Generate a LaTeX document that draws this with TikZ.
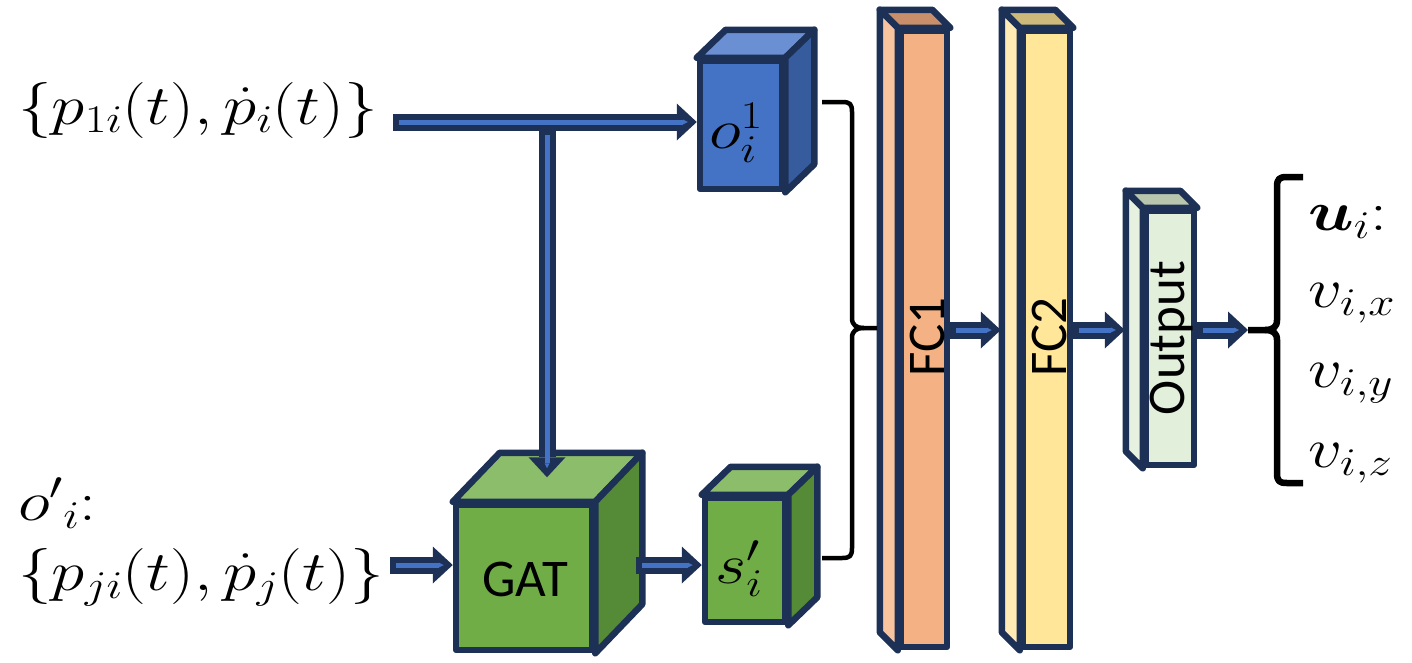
\RequirePackage{fix-cm}
\documentclass[tikz,border=0pt]{standalone}
\usepackage{fontspec}
\usepackage{bm}
\usepackage{graphicx}
\newfontfamily\carlito{Carlito}
\newcommand\wm[1]{\scalebox{1.2}[1]{#1}}
\usetikzlibrary{arrows.meta,calc}
\definecolor{navy}{HTML}{1D3056}
\definecolor{arrowblue}{HTML}{4472C4}
\definecolor{bfront}{HTML}{4472C4}
\definecolor{btop}{HTML}{6A8FD2}
\definecolor{bside}{HTML}{375C9E}
\definecolor{gfront}{HTML}{70AD47}
\definecolor{gtopc}{HTML}{8CBD6A}
\definecolor{gside}{HTML}{558A37}
\definecolor{ofront}{HTML}{F4B183}
\definecolor{oside}{HTML}{F8C4A0}
\definecolor{otop}{HTML}{C88F6A}
\definecolor{yfront}{HTML}{FFE699}
\definecolor{yside}{HTML}{FFEBB3}
\definecolor{ytop}{HTML}{CDBA7A}
\definecolor{lfront}{HTML}{E2EFDA}
\definecolor{lside}{HTML}{E6F1DF}
\definecolor{ltop}{HTML}{B8C6AE}
\begin{document}
\begin{tikzpicture}[x=1pt,y=-1pt,line join=round]
\tikzset{
  face/.style={draw=navy, line width=6.5pt},
  front/.style={face, rectangle, inner sep=0pt},
  mtext/.style={inner sep=0pt, font=\fontsize{56}{60}\selectfont},
  stext/.style={inner sep=0pt, font=\carlito\fontsize{53}{58}\selectfont},
  navyarrow/.style={draw=navy, line width=17pt, -{Triangle[length=20pt,width=37pt,line width=0pt]}},
  bluearrow/.style={draw=arrowblue, line width=5pt, shorten <=6pt, shorten >=9pt, -{Triangle[length=5pt,width=5pt,line width=0pt]}},
  bracepath/.style={draw=black, line width=4.5pt}
}
\useasboundingbox (0,0) rectangle (1412,662);

% ---- left texts
\node[mtext, anchor=base west] (p1) at (18,124) {\wm{$\{p_{1i}(t),\dot{p}_i(t)\}$}};
\node[mtext, anchor=base west] (oi) at (18,520) {\wm{${o'}_{i}$:}};
\node[mtext, anchor=base west] (pj) at (18,590) {\wm{$\{p_{ji}(t),\dot{p}_j(t)\}$}};

% ---- blue cube
\node[front, fill=bfront, minimum width=82pt, minimum height=128pt] (o1) at (741,125) {};
\draw[face, fill=btop] (o1.north west) -- ++(29,-28) -- ($(o1.north east)+(29,-28)$) -- (o1.north east) -- cycle;
\draw[face, fill=bside] (o1.north east) -- ++(29,-28) -- ($(o1.south east)+(29,-28)$) -- (o1.south east) -- cycle;
\node[mtext] (o1t) at (736,133) {\wm{$o_i^1$}};

% ---- GAT cube
\node[front, fill=gfront, minimum width=136pt, minimum height=145pt] (gat) at (524,577.5) {};
\draw[face, fill=gtopc] (gat.north west) -- ++(47,-49) -- ($(gat.north east)+(47,-49)$) -- (gat.north east) -- cycle;
\draw[face, fill=gside] (gat.north east) -- ++(47,-49) -- ($(gat.south east)+(47,-49)$) -- (gat.south east) -- cycle;
\node[stext] (gatt) at (525,579) {GAT};

% ---- s cube
\node[front, fill=gfront, minimum width=80pt, minimum height=124pt] (s) at (745,560) {};
\draw[face, fill=gtopc] (s.north west) -- ++(29,-28) -- ($(s.north east)+(29,-28)$) -- (s.north east) -- cycle;
\draw[face, fill=gside] (s.north east) -- ++(29,-28) -- ($(s.south east)+(29,-28)$) -- (s.south east) -- cycle;
\node[mtext] (st) at (739,569) {\wm{$s_i'$}};

% ---- FC1 bar
\node[front, fill=ofront, minimum width=46pt, minimum height=616pt] (fc1) at (924,339) {};
\draw[face, fill=otop] (fc1.north west) -- ++(-18,-18) -- ($(fc1.north east)+(-18,-18)$) -- (fc1.north east) -- cycle;
\draw[face, fill=oside] (fc1.north west) -- ++(-18,-18) -- ($(fc1.south west)+(-18,-18)$) -- (fc1.south west) -- cycle;
\node[stext, rotate=90] (fc1t) at (927,337) {FC1};

% ---- FC2 bar
\node[front, fill=yfront, minimum width=47pt, minimum height=616pt] (fc2) at (1046.5,339) {};
\draw[face, fill=ytop] (fc2.north west) -- ++(-18,-18) -- ($(fc2.north east)+(-18,-18)$) -- (fc2.north east) -- cycle;
\draw[face, fill=yside] (fc2.north west) -- ++(-18,-18) -- ($(fc2.south west)+(-18,-18)$) -- (fc2.south west) -- cycle;
\node[stext, rotate=90] (fc2t) at (1049,337) {FC2};

% ---- Output bar
\node[front, fill=lfront, minimum width=48pt, minimum height=254pt] (out) at (1170,338) {};
\draw[face, fill=ltop] (out.north west) -- ++(-17,-17) -- ($(out.north east)+(-17,-17)$) -- (out.north east) -- cycle;
\draw[face, fill=lside] (out.north west) -- ++(-17,-17) -- ($(out.south west)+(-17,-17)$) -- (out.south west) -- cycle;
\node[stext, rotate=90] (outt) at (1172,338) {Output};

% ---- arrows
\coordinate (s1) at (393,122);
\coordinate (j) at (547,122);
\coordinate (gtop) at ($(gat.north)+(23.5,-24.5)$);
\coordinate (s2) at (390,565);
\coordinate (ga) at ($(gat.east)+(41,0)$);
\coordinate (rb) at (1248,330);

\draw[navyarrow] (j) -- (j |- gtop);
\draw[bluearrow, shorten <=13pt] (j) -- (j |- gtop);
\draw[navyarrow] (s1) -- (s1 -| o1.west);
\draw[bluearrow] (s1) -- (s1 -| o1.west);

\draw[navyarrow] (s2) -- (s2 -| gat.west);
\draw[bluearrow] (s2) -- (s2 -| gat.west);
\draw[navyarrow] (ga |- s2) -- (s2 -| s.west);
\draw[bluearrow] (ga |- s2) -- (s2 -| s.west);

\draw[navyarrow] (fc1.east |- rb) -- ($(fc2.west |- rb)+(-19,0)$);
\draw[bluearrow] (fc1.east |- rb) -- ($(fc2.west |- rb)+(-19,0)$);
\draw[navyarrow] (fc2.east |- rb) -- ($(out.west |- rb)+(-18,0)$);
\draw[bluearrow] (fc2.east |- rb) -- ($(out.west |- rb)+(-18,0)$);
\draw[navyarrow] (out.east |- rb) -- (rb);
\draw[bluearrow] (out.east |- rb) -- (rb);

% ---- middle brace
\draw[bracepath] (822,102) -- (842,102) .. controls (850,102) and (852,104) .. (852,112) -- (852,318)
   .. controls (852,325) and (856,328) .. (864,328) -- (877,328);
\draw[bracepath] (864,328) .. controls (856,328) and (852,331) .. (852,338) -- (852,548)
   .. controls (852,556) and (850,558) .. (842,558) -- (822,558);

% ---- right brace
\draw[bracepath, line width=6.5pt] (1303,177) -- (1287,177) .. controls (1279,177) and (1277,179) .. (1277,187) -- (1277,320)
   .. controls (1277,327) and (1273,330) .. (1265,330) -- (rb);
\draw[bracepath, line width=6.5pt] (1265,330) .. controls (1273,330) and (1277,333) .. (1277,340) -- (1277,473)
   .. controls (1277,481) and (1279,483) .. (1287,483) -- (1303,483);

% ---- right texts
\node[mtext, anchor=base west] (u) at (1308,230) {\wm{$\bm{u}_i$:}};
\node[mtext, anchor=base west] (vx) at (1308,307) {\wm{$v_{i,x}$}};
\node[mtext, anchor=base west] (vy) at (1308,387) {\wm{$v_{i,y}$}};
\node[mtext, anchor=base west] (vz) at (1308,467) {\wm{$v_{i,z}$}};
\end{tikzpicture}
\end{document}
